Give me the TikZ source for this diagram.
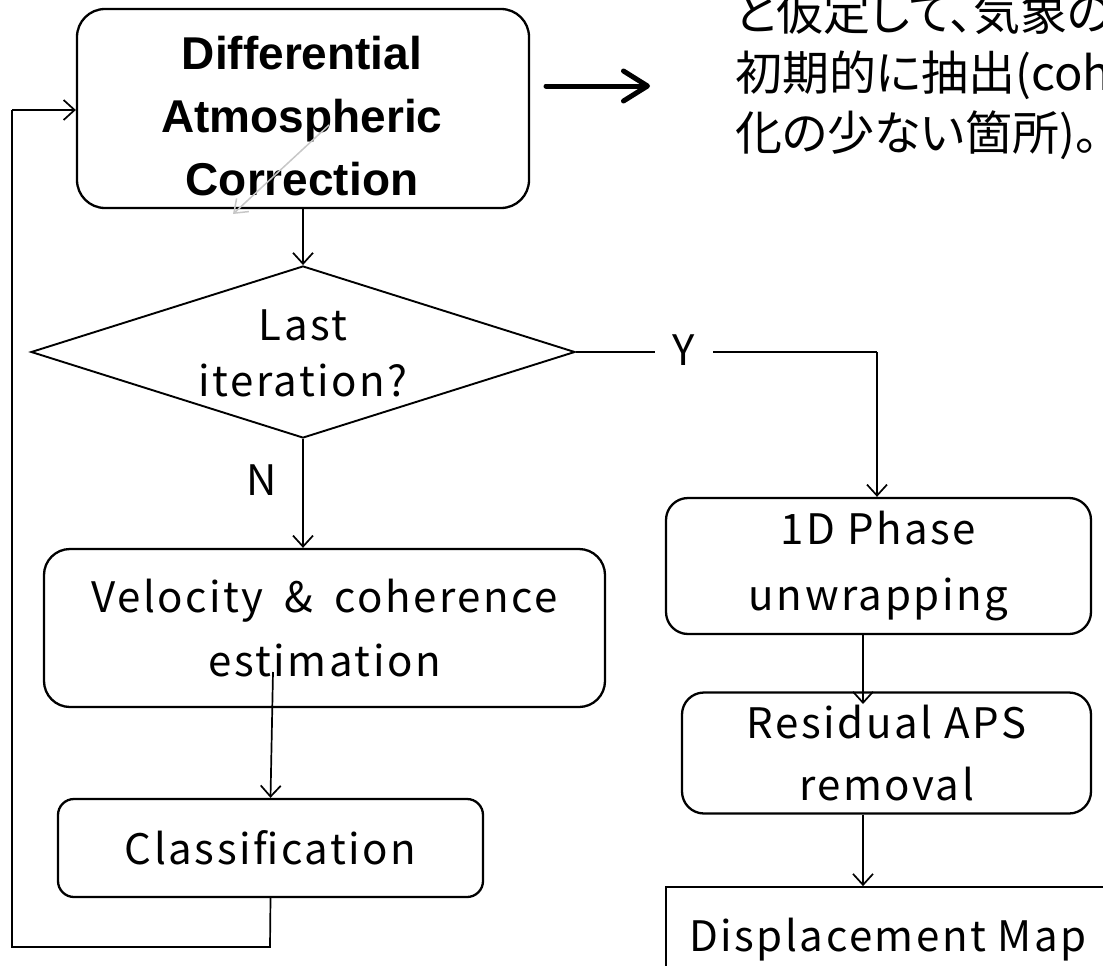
\documentclass[tikz,border=0pt]{standalone}
\usepackage{fontspec}
\setmainfont{Noto Sans CJK JP}
\newfontfamily\latinwide[LetterSpace=6]{Noto Sans CJK JP}
\newfontfamily\jpnote[RawFeature=+palt]{Noto Sans CJK JP}
\newfontfamily\boldsans{Liberation Sans}
\usetikzlibrary{arrows.meta,shapes.geometric}
\tikzset{
  box/.style={draw, line width=2.3pt, rounded corners=20pt, inner sep=0pt, align=center},
  lbl/.style={font=\latinwide\fontsize{42}{64}\selectfont, align=center},
  conn/.style={line width=1.7pt, -{Straight Barb[length=11pt,width=20pt,line width=1.7pt]}},
  plain/.style={line width=1.7pt},
}
\begin{document}
\begin{tikzpicture}[x=1pt,y=-1pt]
\useasboundingbox (0,0) rectangle (1103,966);
\clip (0,0) rectangle (1103,966);
% nodes
\node[box, rounded corners=28pt, minimum width=452pt, minimum height=199pt] (dac) at (303,108.5) {};
\node[align=center, font=\boldsans\bfseries\fontsize{46}{63}\selectfont] (dactext) at (302,116) {Differential\\Atmospheric\\Correction};
\node[draw, diamond, line width=1.9pt, minimum width=544pt, minimum height=172pt, inner sep=0pt] (dia) at (303,352) {};
\node[lbl, font=\latinwide\fontsize{42}{56}\selectfont] (diatext) at (303,353) {Last\\iteration?};
\node[box, lbl, rounded corners=26pt, minimum width=561pt, minimum height=158pt] (vel) at (324.5,628) {Velocity\hspace{0.5em}\&\hspace{0.5em}coherence\\estimation};
\node[box, lbl, rounded corners=16pt, minimum width=425pt, minimum height=98pt] (cls) at (270.5,848) {Classification};
\node[box, lbl, font=\latinwide\fontsize{42}{66}\selectfont, rounded corners=22pt, minimum width=425pt, minimum height=136pt] (pu) at (878.5,566) {1D Phase\\unwrapping};
\node[box, lbl, font=\latinwide\fontsize{42}{62}\selectfont, rounded corners=22pt, minimum width=409pt, minimum height=121pt] (aps) at (886.5,753) {Residual APS\\removal};
\node[draw, line width=1.7pt, minimum width=454pt, minimum height=104pt, inner sep=0pt] (map) at (893,939) {};
\node[lbl] (maptext) at (888,940) {Displacement Map};
% Japanese note
\node[anchor=north west, inner sep=0pt, align=left, font=\jpnote\fontsize{47}{60}\selectfont] (note) at (735,-9)
  {と仮定して、気象の\\初期的に抽出(coh\\化の少ない箇所)。};
% gray arrow
\coordinate (g1) at (329,125);
\coordinate (g2) at (233,214);
\draw[line width=1.5pt, color=black!22, -{Straight Barb[length=12pt,width=18pt,line width=1.5pt]}] (g1) -- (g2);
% thick arrow
\coordinate (ta) at (546,86);
\coordinate (tb) at (650,86);
\draw[line width=5pt, line cap=round, -{Straight Barb[length=24pt,width=30pt,line width=5pt, round]}] (ta) -- (tb);
% connectors
\draw[conn] (dac.south) -- (dia.north);
\draw[conn] (dia.south) -- (vel.north -| dia.south);
\node[lbl] (nlab) at (262,480) {N};
\coordinate (ylab0) at (877,352);
\draw[plain] (dia.east) -- (ylab0);
\draw[conn] (ylab0) -- (pu.north -| ylab0);
\node[lbl, fill=white, inner xsep=18pt] (ylab) at (684,350) {Y};
\coordinate (v1) at (273,672);
\draw[conn] (v1) -- (cls.north);
\coordinate (c1) at (270,947);
\coordinate (c2) at (12,947);
\coordinate (c3) at (12,110);
\draw[plain] (cls.south) -- (c1) -- (c2) -- (c3);
\draw[conn] (c3) -- (c3 -| dac.west);
\coordinate (p1) at (863,634);
\coordinate (p2) at (863,704);
\draw[conn] (p1) -- (p2);
\draw[conn] (aps.south -| p1) -- (map.north -| p1);
\end{tikzpicture}
\end{document}
